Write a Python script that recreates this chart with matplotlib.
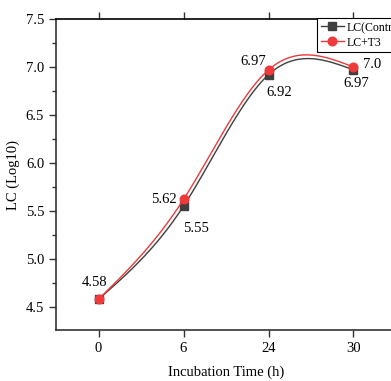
import numpy as np
import matplotlib.pyplot as plt
from matplotlib.ticker import MultipleLocator

times = ["0", "6", "24", "30"]
control = [4.58, 5.55, 6.92, 6.97]
treated = [4.58, 5.62, 6.97, 7.0]

# label offsets in points (x, y) for each series
control_offsets = [None, (9, -16), (8, -13), (2, -10)]
treated_offsets = [(-3, 12), (-5, 0), (-2, 6), (7, 2)]


def natural_spline(y, n=200):
    # natural cubic spline through equally spaced points (h = 1)
    y = np.asarray(y, dtype=float)
    k = len(y)
    a = np.zeros((k, k))
    b = np.zeros(k)
    a[0, 0] = a[-1, -1] = 1
    for i in range(1, k - 1):
        a[i, i - 1], a[i, i], a[i, i + 1] = 1, 4, 1
        b[i] = 6 * (y[i - 1] - 2 * y[i] + y[i + 1])
    m = np.linalg.solve(a, b)
    xs = np.linspace(0, k - 1, n)
    seg = np.minimum(xs.astype(int), k - 2)
    t = xs - seg
    A = 1 - t
    B = t
    ys = A * y[seg] + B * y[seg + 1] + ((A**3 - A) * m[seg] + (B**3 - B) * m[seg + 1]) / 6
    return xs, ys


plt.rcParams['font.family'] = ['Liberation Serif', 'DejaVu Serif']

fig = plt.figure(figsize=(3.91, 3.81), dpi=100)
ax = fig.add_axes([56 / 391, (381 - 330) / 381, 340 / 391, 311 / 381])

x = np.arange(len(times))
dark = '#3f3f3f'
red = '#ee3a3a'

xs, ys = natural_spline(control)
ax.plot(xs, ys, color=dark, lw=1.0)
ax.plot(x, control, 's', color=dark, ms=5.5)
xs, ys = natural_spline(treated)
ax.plot(xs, ys, color=red, lw=1.0)
ax.plot(x, treated, 'o', color=red, ms=6.2)

# legend handles with line + marker
h1, = ax.plot([], [], '-s', color=dark, ms=5.5, lw=1.0)
h2, = ax.plot([], [], '-o', color=red, ms=6.2, lw=1.0)

for i, v in enumerate(treated):
    dx, dy = treated_offsets[i]
    ha = 'right' if dx < -1 and i > 0 else ('left' if dx > 5 else 'center')
    ax.annotate(f"{v}", (i, v), xytext=(dx, dy), textcoords='offset points',
                ha=ha, va='center', fontsize=10.5)
for i, v in enumerate(control):
    if control_offsets[i] is None:
        continue
    dx, dy = control_offsets[i]
    ax.annotate(f"{v}", (i, v), xytext=(dx, dy), textcoords='offset points',
                ha='center', va='center', fontsize=10.5)

ax.set_xlim(-0.5, 3.5)
ax.set_ylim(4.26, 7.5)
ax.set_xticks(x)
ax.set_xticklabels(times)
ax.yaxis.set_major_locator(MultipleLocator(0.5))
ax.yaxis.set_minor_locator(MultipleLocator(0.25))
ax.tick_params(axis='both', labelsize=10.5, length=5, width=1, color='#333333')
ax.tick_params(axis='y', which='minor', length=3, width=1, color='#333333')
ax.tick_params(top=True, right=True, which='major', direction='in')
ax.tick_params(left=True, bottom=True, which='major', direction='out')
ax.tick_params(axis='y', which='minor', left=True, right=False, direction='out')

for s in ax.spines.values():
    s.set_linewidth(1.2)
    s.set_color('#333333')
ax.spines['top'].set_color('black')

ax.set_xlabel('Incubation Time (h)', fontsize=10.5, labelpad=8)
ax.set_ylabel('LC (Log10)', fontsize=10.5, labelpad=4)

leg = ax.legend([h1, h2], ['LC(Control)', 'LC+T3'], loc='upper left',
                bbox_to_anchor=(0.768, 1.003), borderaxespad=0, fontsize=8.5,
                fancybox=False, edgecolor='black', framealpha=1,
                handlelength=2.0, handletextpad=0.2, borderpad=0.3,
                labelspacing=0.25)
leg.get_frame().set_linewidth(0.8)

fig.savefig('out.png', dpi=100)
